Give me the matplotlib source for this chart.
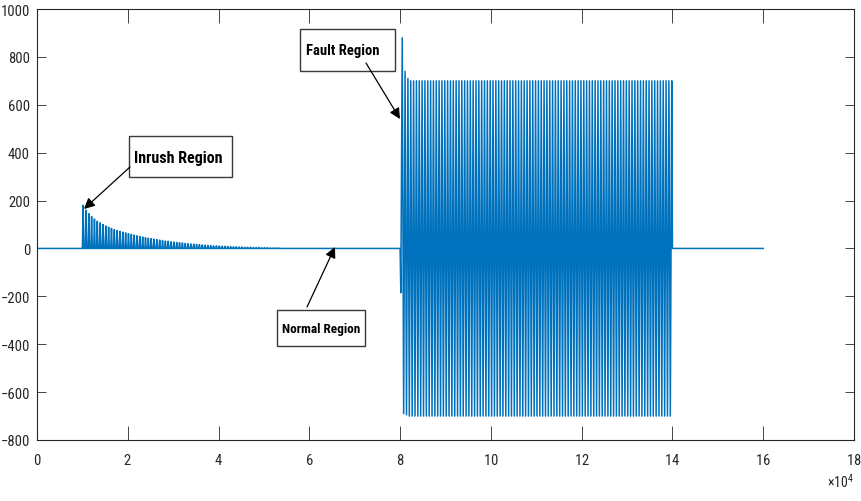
import matplotlib.pyplot as plt
import matplotlib.ticker as mticker
from matplotlib.patches import Rectangle
import numpy as np

plt.rcParams['font.family'] = ['Roboto Condensed', 'DejaVu Sans']
plt.rcParams['mathtext.fontset'] = 'custom'
plt.rcParams['mathtext.rm'] = 'Roboto Condensed'

# sample index where each stage begins / ends
t_end = 16e4
inrush_start = 1.0e4
fault_start = 8.0e4
fault_end = 14e4
cycle = 625

# peak current of each inrush cycle (half-wave, decaying)
inrush_peaks = [180, 160, 145, 133, 123, 114, 107, 100, 94, 89,
                84, 79, 75, 71, 68, 65, 62, 59, 56, 53,
                50, 48, 45, 43, 41, 39, 37, 35, 33, 31,
                30, 28, 27, 25, 24, 23, 21, 20, 19, 18,
                17, 16, 15, 14, 13, 12, 11, 11, 10, 9,
                9, 8, 8, 7, 7, 6, 6, 5, 5, 5,
                4, 4, 4, 3, 3, 3, 2, 2, 2, 2]

# negative / positive peak of each fault cycle
fault_neg = [-185, -690, -695] + [-700] * 93
fault_pos = [880, 740, 710] + [700] * 93

# build the current trace
t = [0.0]
y = [0.0]
for k, p in enumerate(inrush_peaks):
    t0 = inrush_start + k * cycle
    t += [t0, t0 + cycle / 4, t0 + cycle / 2]
    y += [0.0, p, 0.0]
fault_cycle = (fault_end - fault_start) / len(fault_pos)
t.append(fault_start)
y.append(0.0)
for k, (n, p) in enumerate(zip(fault_neg, fault_pos)):
    t0 = fault_start + k * fault_cycle
    t += [t0 + fault_cycle / 4, t0 + 3 * fault_cycle / 4]
    y += [n, p]
t += [fault_end, t_end]
y += [0.0, 0.0]

fig = plt.figure(figsize=(8.62, 5.02), dpi=100)
ax = fig.add_axes([37 / 862, 61 / 502, 817 / 862, 431 / 502])
ax.plot(t, y, color='#0072BD', linewidth=1.1)

ax.set_xlim(0, 18e4)
ax.set_ylim(-800, 1000)
ax.set_xticks(np.arange(0, 18.1e4, 2e4))
ax.set_yticks(np.arange(-800, 1001, 200))
fmt = mticker.ScalarFormatter(useMathText=True)
fmt.set_powerlimits((4, 4))
ax.xaxis.set_major_formatter(fmt)

gray = '#262626'
for s in ax.spines.values():
    s.set_color(gray)
    s.set_linewidth(0.8)
ax.tick_params(axis='both', direction='in', top=True, right=True, colors=gray,
               labelsize=10.5, width=0.6)
ax.tick_params(axis='x', length=10, pad=9)
ax.tick_params(axis='y', length=6.5, pad=5)
ax.xaxis.get_offset_text().set_fontsize(10)
ax.xaxis.get_offset_text().set_color(gray)

# labelled text boxes with arrows (axes fraction coordinates)
notes = [
    # label, box (x0, y0, x1, y1), text (x, y), size, arrow start, arrow tip
    ('Inrush Region', (0.1126, 0.6102, 0.2387, 0.7053), (0.1187, 0.655), 11.5,
     (0.1138, 0.6334), (0.0575, 0.536)),
    ('Fault Region', (0.3219, 0.8561, 0.4382, 0.9536), (0.3293, 0.906), 10.5,
     (0.4027, 0.8747), (0.4443, 0.7448)),
    ('Normal Region', (0.2938, 0.2181, 0.4015, 0.3016), (0.2996, 0.259), 9.5,
     (0.3305, 0.3086), (0.3647, 0.4478)),
]
for label, (x0, y0, x1, y1), (tx, ty), size, start, tip in notes:
    ax.add_patch(Rectangle((x0, y0), x1 - x0, y1 - y0, transform=ax.transAxes,
                           fc='white', ec='#3a3a3a', lw=1.0, zorder=4))
    ax.text(tx, ty, label, transform=ax.transAxes, ha='left', va='center',
            fontsize=size, fontweight='bold', color='black', zorder=5)
    ax.annotate('', xy=tip, xytext=start, xycoords='axes fraction',
                textcoords='axes fraction', zorder=5,
                arrowprops=dict(arrowstyle='-|>', color='black', lw=0.9,
                                mutation_scale=16, shrinkA=0, shrinkB=0))

fig.savefig('out.png', dpi=100)
